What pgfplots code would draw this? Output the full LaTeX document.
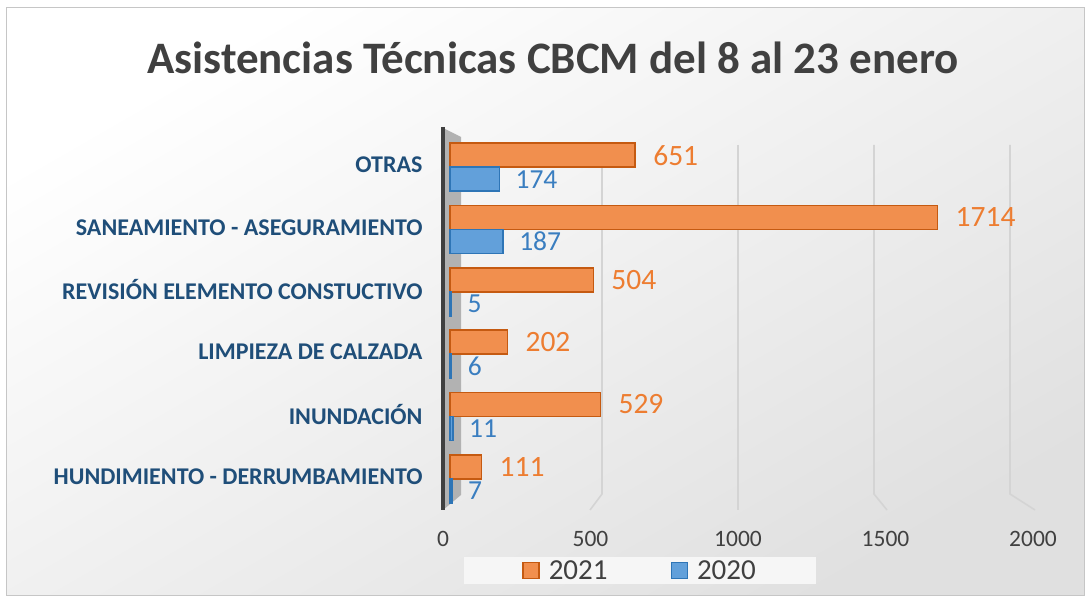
\documentclass[border=0pt]{standalone}
\usepackage{pgfplots}
\pgfplotsset{compat=1.18}
\usepackage{fontspec}
\setmainfont{Carlito}
\definecolor{orfill}{HTML}{F18F4E}
\definecolor{oredge}{HTML}{C55A11}
\definecolor{ortext}{HTML}{ED7D31}
\definecolor{blfill}{HTML}{62A0DA}
\definecolor{bledge}{HTML}{2E75B6}
\definecolor{bltext}{HTML}{3A7EC0}
\definecolor{catblue}{HTML}{1F4E79}
\definecolor{titlegray}{HTML}{404040}
\definecolor{tickgray}{HTML}{404040}
\definecolor{gridgray}{HTML}{D4D4D4}
\begin{document}
\begin{tikzpicture}
\useasboundingbox (0pt,0pt) rectangle (1090pt,599pt);
\fill[white] (0pt,0pt) rectangle (1090pt,599pt);
\shade[top color=white, bottom color=gray!24, shading angle=30] (6pt,3pt) rectangle (1084pt,591pt);
\draw[gray!45, line width=1pt] (6pt,3pt) rectangle (1084pt,591pt);
\node[font=\bfseries\fontsize{45}{54}\selectfont, text=titlegray] at (553pt,541pt) {Asistencias Técnicas CBCM del 8 al 23 enero};
% grid lines (back wall + floor perspective)
\foreach \xb/\xf in {602/590, 738/738, 874/887, 1010/1035}{
  \draw[gridgray, line width=1.6pt] (\xb pt,454pt) -- (\xb pt,105pt) -- (\xf pt,89pt);
}
% side wall
\fill[gray!60] (443pt,471pt) -- (461pt,462pt) -- (461pt,104pt) -- (443pt,89pt) -- cycle;
\draw[line width=4pt, black!75] (443pt,472pt) -- (443pt,89pt);
% tick labels (floor scale)
\begin{axis}[
  at={(443pt,91pt)}, anchor=south west,
  scale only axis, width=590pt, height=374pt,
  xmin=0, xmax=2000, ymin=0, ymax=1,
  axis line style={draw=none}, ytick=\empty,
  major tick length=0pt,
  xtick={0,500,1000,1500,2000},
  /pgf/number format/assume math mode=true,
  /pgf/number format/1000 sep={},
  scaled x ticks=false,
  xticklabel style={font=\fontsize{23.5}{26}\selectfont, text=tickgray, yshift=-20pt},
]
\end{axis}
\begin{axis}[
  at={(450pt,91pt)}, anchor=south west,
  scale only axis, width=569pt, height=374pt,
  xbar,
  xmin=0, xmax=2000, ymin=-0.5, ymax=5.5,
  clip=false,
  axis line style={draw=none},
  major tick length=0pt,
  xtick=\empty,
  /pgf/number format/assume math mode=true,
  /pgf/number format/1000 sep={},
  ytick={0,1,2,3,4,5},
  yticklabels={HUNDIMIENTO - DERRUMBAMIENTO, INUNDACIÓN, LIMPIEZA DE CALZADA, REVISIÓN ELEMENTO CONSTUCTIVO, SANEAMIENTO - ASEGURAMIENTO, OTRAS},
  yticklabel style={font=\bfseries\fontsize{24}{26}\selectfont, text=catblue, xshift=-24pt},
  bar width=24pt,
  legend image code/.code={\draw[#1, line width=1.5pt] (0pt,-8pt) rectangle (16pt,8pt);},
  legend style={at={(0.334,-0.167)}, anchor=center, legend columns=2, fill=gray!7, draw=none,
    font=\fontsize{29}{31}\selectfont, text=tickgray, inner xsep=58pt, inner ysep=1pt,
    /tikz/every odd column/.append style={column sep=7pt},
    /tikz/every even column/.append style={column sep=61pt}},
]
\addplot[bar shift=10pt, fill=orfill, draw=oredge, line width=1.5pt,
  nodes near coords, nodes near coords style={font=\fontsize{29.5}{31}\selectfont, text=ortext, anchor=west, xshift=14pt}]
  coordinates {(111,0) (529,1) (202,2) (504,3) (1714,4) (651,5)};
\addlegendentry{2021}
\addplot[bar shift=-14pt, fill=blfill, draw=bledge, line width=1.5pt,
  nodes near coords, nodes near coords style={font=\fontsize{27.5}{29}\selectfont, text=bltext, anchor=west, xshift=12pt}]
  coordinates {(7,0) (11,1) (6,2) (5,3) (187,4) (174,5)};
\addlegendentry{2020}
\end{axis}
\end{tikzpicture}
\end{document}
